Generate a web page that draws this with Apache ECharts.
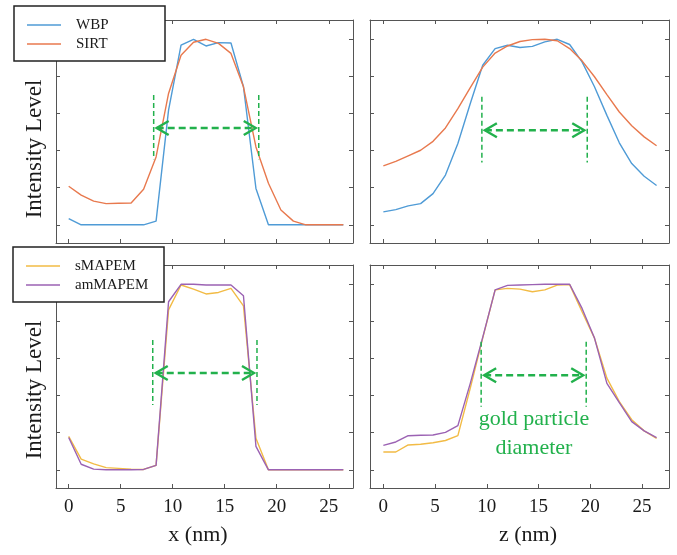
<!DOCTYPE html>
<html><head><meta charset="utf-8">
<script src="https://cdn.jsdelivr.net/npm/echarts@6/dist/echarts.min.js"></script>
<style>html,body{margin:0;padding:0;background:#fff}#c{width:677px;height:555px}</style>
</head><body><div id="c"></div>
<script>
// ---- data ----
const xPos = [0,1.2,2.4,3.6,4.8,6.0,7.2,8.4,9.6,10.8,12.0,13.2,14.4,15.6,16.8,18.0,19.2,20.4,21.6,22.8,24.0,25.2,26.4];
const xTicks = [0,5,10,15,20,25];
const yTicks = [0,1,2,3,4,5];
const legendTop = ['WBP','SIRT'];
const legendBottom = ['sMAPEM','amMAPEM'];
const xLabelX = 'x (nm)';
const xLabelZ = 'z (nm)';
const yLabel = 'Intensity Level';
const noteText = 'gold particle\ndiameter';

const wbpX   = [0.17,0,0,0,0,0,0,0.10,3.09,4.84,5.0,4.82,4.91,4.90,3.72,0.98,0,0,0,0,0,0,0];
const sirtX  = [1.04,0.80,0.64,0.57,0.58,0.59,0.96,1.83,3.54,4.57,4.92,5.0,4.89,4.62,3.72,2.10,1.12,0.40,0.10,0,0,0,0];
const wbpZ   = [0.35,0.41,0.51,0.57,0.84,1.34,2.19,3.27,4.30,4.75,4.84,4.78,4.81,4.93,5.0,4.86,4.39,3.72,2.95,2.21,1.65,1.31,1.06];
const sirtZ  = [1.59,1.71,1.86,2.01,2.25,2.61,3.13,3.70,4.25,4.63,4.82,4.94,4.99,5.0,4.96,4.75,4.42,3.99,3.51,3.04,2.67,2.37,2.13];
const smapX  = [0.90,0.29,0.16,0.06,0.04,0.02,0.01,0.12,4.31,4.98,4.87,4.74,4.78,4.89,4.42,0.85,0,0,0,0,0,0,0];
const amapX  = [0.87,0.15,0.02,0,0,0,0.01,0.12,4.53,5.0,5.0,4.98,4.98,4.98,4.69,0.63,0,0,0,0,0,0,0];
const smapZ  = [0.48,0.48,0.67,0.69,0.73,0.79,0.92,2.20,3.55,4.85,4.89,4.87,4.80,4.85,4.98,4.99,4.26,3.55,2.47,1.84,1.35,1.05,0.85];
const amapZ  = [0.66,0.75,0.92,0.93,0.94,1.01,1.19,2.33,3.57,4.85,4.97,4.98,4.99,5.0,5.0,5.0,4.35,3.55,2.33,1.81,1.30,1.05,0.87];

// annotation: [xLeft, xRight, yTop, yBottom, yArrow] per panel
const noteTL = [8.17, 18.27, 3.5, 1.77, 2.61];
const noteTR = [9.52, 19.70, 3.45, 1.68, 2.55];
const noteBL = [8.08, 18.10, 3.5, 1.75, 2.61];
const noteBR = [9.45, 19.60, 3.45, 1.70, 2.55];
const notePos = [14.55, 0.96];

// ---- styling ----
const SERIF = "'Liberation Serif','Times New Roman',serif";
const C_BLUE = '#4f9bd6', C_ORANGE = '#e8794e', C_YELLOW = '#f2bb45', C_PURPLE = '#9b62b3', C_GREEN = '#22b14c';
const AX = '#555';

const grids = [
  {left:56, top:20, width:297, height:223},
  {left:370, top:20, width:299, height:223},
  {left:56, top:265, width:297, height:223},
  {left:370, top:265, width:299, height:223}
];
const xr = [[-1.22,27.33],[-1.29,27.6],[-1.22,27.33],[-1.29,27.6]];
const yr = [-0.49, 5.52];

const xAxes = [], yAxes = [];
for (let i=0;i<4;i++){
  const showLab = i>=2;
  xAxes.push({type:'value', gridIndex:i, position:'bottom', min:xr[i][0], max:xr[i][1],
    axisLine:{onZero:false, lineStyle:{color:AX, width:1}}, splitLine:{show:false},
    axisTick:{inside:true, length:4, customValues:xTicks, lineStyle:{color:AX}},
    axisLabel:{show:showLab, customValues:xTicks, margin:10, color:'#1a1a1a', fontFamily:SERIF, fontSize:19}});
  yAxes.push({type:'value', gridIndex:i, position:'left', min:yr[0], max:yr[1],
    axisLine:{show:true, onZero:false, lineStyle:{color:AX, width:1}}, splitLine:{show:false},
    axisTick:{show:true, inside:true, length:4, customValues:yTicks, lineStyle:{color:AX}},
    axisLabel:{show:false, customValues:yTicks}});
}
for (let i=0;i<4;i++){
  xAxes.push({type:'value', gridIndex:i, position:'top', min:xr[i][0], max:xr[i][1],
    axisLine:{onZero:false, lineStyle:{color:AX, width:1}}, splitLine:{show:false},
    axisTick:{inside:true, length:4, customValues:xTicks, lineStyle:{color:AX}},
    axisLabel:{show:false, customValues:xTicks}});
  yAxes.push({type:'value', gridIndex:i, position:'right', min:yr[0], max:yr[1],
    axisLine:{show:true, onZero:false, lineStyle:{color:AX, width:1}}, splitLine:{show:false},
    axisTick:{show:true, inside:true, length:4, customValues:yTicks, lineStyle:{color:AX}},
    axisLabel:{show:false, customValues:yTicks}});
}

function pairs(v){ return xPos.map((x,i)=>[x, v[i]]); }
function lineSeries(name, vals, g, color){
  return {type:'line', name, xAxisIndex:g, yAxisIndex:g, data:pairs(vals), symbol:'none',
    lineStyle:{color, width:1.4}, itemStyle:{color}, z:3, animation:false};
}
function noteSeries(note, g){
  return {type:'custom', xAxisIndex:g, yAxisIndex:g, data:[note], z:4, silent:true, animation:false,
    renderItem(params, api){
      const pL1 = api.coord([api.value(0), api.value(2)]);
      const pL2 = api.coord([api.value(0), api.value(3)]);
      const pR1 = api.coord([api.value(1), api.value(2)]);
      const pR2 = api.coord([api.value(1), api.value(3)]);
      const pa = api.coord([api.value(0), api.value(4)]);
      const pb = api.coord([api.value(1), api.value(4)]);
      const tipL = pa[0]+3, tipR = pb[0]-3, y = pa[1];
      const vs = {stroke:C_GREEN, lineWidth:1.5, lineDash:[5,3]};
      const as = {stroke:C_GREEN, lineWidth:2.4, lineDash:[7,4]};
      const cs = {stroke:C_GREEN, lineWidth:2.4, fill:null};
      return {type:'group', children:[
        {type:'line', shape:{x1:pL1[0],y1:pL1[1],x2:pL2[0],y2:pL2[1]}, style:vs},
        {type:'line', shape:{x1:pR1[0],y1:pR1[1],x2:pR2[0],y2:pR2[1]}, style:vs},
        {type:'line', shape:{x1:tipL,y1:y,x2:tipR,y2:y}, style:as},
        {type:'polyline', shape:{points:[[tipL+12,y-7],[tipL,y],[tipL+12,y+7]]}, style:cs},
        {type:'polyline', shape:{points:[[tipR-12,y-7],[tipR,y],[tipR-12,y+7]]}, style:cs}
      ]};
    }};
}

const series = [
  lineSeries(legendTop[0], wbpX, 0, C_BLUE),
  lineSeries(legendTop[1], sirtX, 0, C_ORANGE),
  lineSeries(legendTop[0], wbpZ, 1, C_BLUE),
  lineSeries(legendTop[1], sirtZ, 1, C_ORANGE),
  lineSeries(legendBottom[0], smapX, 2, C_YELLOW),
  lineSeries(legendBottom[1], amapX, 2, C_PURPLE),
  lineSeries(legendBottom[0], smapZ, 3, C_YELLOW),
  lineSeries(legendBottom[1], amapZ, 3, C_PURPLE),
  noteSeries(noteTL, 0), noteSeries(noteTR, 1), noteSeries(noteBL, 2), noteSeries(noteBR, 3),
  {type:'custom', xAxisIndex:3, yAxisIndex:3, data:[notePos], z:4, silent:true, animation:false,
    renderItem(params, api){
      const p = api.coord([api.value(0), api.value(1)]);
      return {type:'text', x:p[0], y:p[1], style:{text:noteText, fill:C_GREEN, font:'22px '+SERIF,
        align:'center', verticalAlign:'middle', lineHeight:29}};
    }}
];

const legendCommon = {orient:'vertical', icon:'rect', itemWidth:34, itemHeight:1.6, itemGap:0, padding:0, z:6,
  textStyle:{fontFamily:SERIF, fontSize:15, color:'#1a1a1a', lineHeight:19, padding:[0,0,0,10]}};

const option = {
  animation:false,
  backgroundColor:'#fff',
  grid:grids,
  xAxis:xAxes, yAxis:yAxes,
  legend:[
    Object.assign({}, legendCommon, {data:legendTop, left:27, top:15.5}),
    Object.assign({}, legendCommon, {data:legendBottom, left:26, top:256.5})
  ],
  graphic:[
    {type:'rect', z:5, shape:{x:14, y:6, width:151, height:55}, style:{fill:'#fff', stroke:'#222', lineWidth:1.5}},
    {type:'rect', z:5, shape:{x:13, y:247, width:151, height:55}, style:{fill:'#fff', stroke:'#222', lineWidth:1.5}},
    {type:'text', z:5, x:35, y:149, rotation:Math.PI/2, style:{text:yLabel, font:'23px '+SERIF, fill:'#1a1a1a', align:'center', verticalAlign:'middle'}},
    {type:'text', z:5, x:35, y:390, rotation:Math.PI/2, style:{text:yLabel, font:'23px '+SERIF, fill:'#1a1a1a', align:'center', verticalAlign:'middle'}},
    {type:'text', z:5, x:198, y:535, style:{text:xLabelX, font:'22px '+SERIF, fill:'#1a1a1a', align:'center', verticalAlign:'middle'}},
    {type:'text', z:5, x:528, y:535, style:{text:xLabelZ, font:'22px '+SERIF, fill:'#1a1a1a', align:'center', verticalAlign:'middle'}}
  ],
  series
};
const chart = echarts.init(document.getElementById('c'), null, {renderer:'canvas'});
chart.setOption(option);
</script>
</body></html>
